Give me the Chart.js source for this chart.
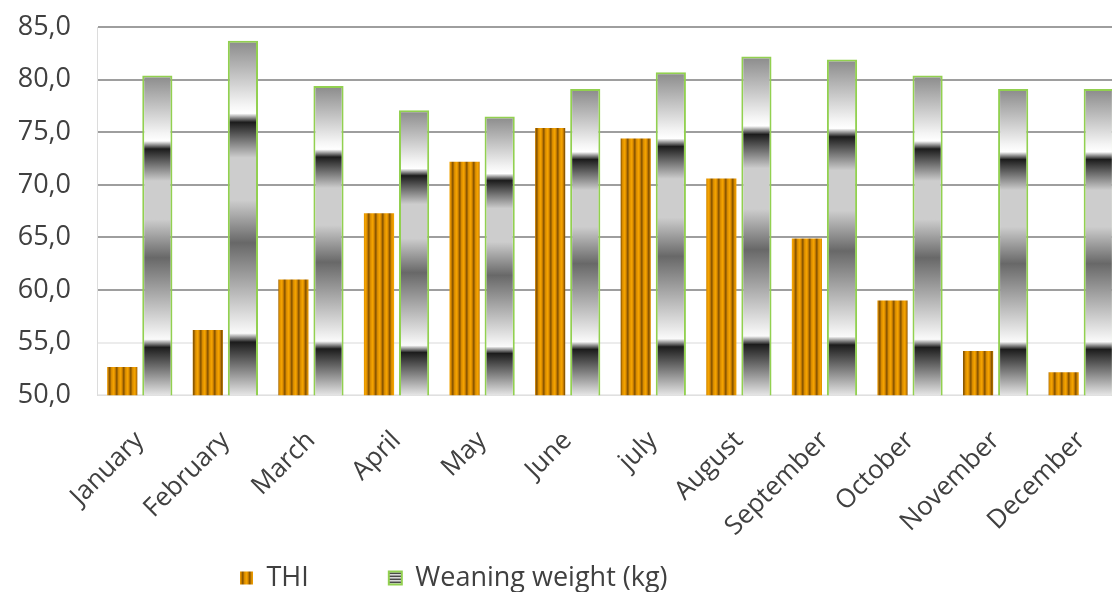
<!DOCTYPE html>
<html>
<head>
<meta charset="utf-8">
<script src="https://cdn.jsdelivr.net/npm/chart.js@4.4.1/dist/chart.umd.min.js"></script>
<style>
  html, body { margin: 0; padding: 0; background: #fff; overflow: hidden; }
</style>
</head>
<body>
<canvas id="chart" width="1124" height="592"></canvas>
<script>
// Data
const months = ["January", "February", "March", "April", "May", "June",
  "july", "August", "September", "October", "November", "December"];
const thi = [52.7, 56.2, 61.0, 67.3, 72.2, 75.4, 74.4, 70.6, 64.9, 59.0, 54.2, 52.2];
const weaningWeight = [80.4, 83.7, 79.4, 77.1, 76.5, 79.1, 80.7, 82.2, 81.9, 80.4, 79.1, 79.1];
const yMin = 50;
const yMax = 85;
const yStep = 5;

const canvas = document.getElementById("chart");
const ctx2d = canvas.getContext("2d");
const textFont = { family: "'Open Sans', sans-serif", size: 26 };
const yFont = { family: "'Open Sans', sans-serif", size: 27 };
const legendFont = { family: "'Open Sans', sans-serif", size: 27 };
const textColor = "#404040";

// orange bars with vertical stripes
function makePattern(w, h, cols, vertical) {
  const c = document.createElement("canvas");
  c.width = w;
  c.height = h;
  const x = c.getContext("2d");
  cols.forEach((col, i) => {
    x.fillStyle = col;
    if (vertical) x.fillRect(i, 0, 1, h);
    else x.fillRect(0, i, w, 1);
  });
  return ctx2d.createPattern(c, "repeat");
}
const orangeStripes = makePattern(7, 1,
  ["#e89800", "#f2a300", "#e49400", "#c07800", "#8c5800", "#a86a00", "#d88c00"], true);
const grayStripes = makePattern(1, 3, ["#4a4a4a", "#d8d8d8", "#9a9a9a"], false);

// chrome look of the weaning weight bars, stretched over each bar
const chromeStops = [
  [0, "#8a8a8a"], [0.18, "#f4f4f4"], [0.205, "#ffffff"], [0.23, "#1c1c1c"],
  [0.33, "#cdcdcd"], [0.45, "#cdcdcd"], [0.57, "#686868"], [0.81, "#f2f2f2"],
  [0.825, "#fafafa"], [0.85, "#1c1c1c"], [1, "#e6e6e6"]
];
function chromeFill(ctx) {
  const chart = ctx.chart;
  const y = chart.scales.y;
  if (!chart.chartArea || !y || ctx.type !== "data") return "#bdbdbd";
  const top = y.getPixelForValue(ctx.raw);
  const bottom = y.getPixelForValue(y.min);
  const g = chart.ctx.createLinearGradient(0, top, 0, bottom);
  chromeStops.forEach(([t, c]) => g.addColorStop(t, c));
  return g;
}

// legend sits left of centre in the original
const legendStartX = 240;
const legendMidY = 578;
const legendGap = 80;
const legendPlace = {
  id: "legendPlace",
  afterLayout(chart) {
    const lg = chart.legend;
    lg.left = legendStartX - legendGap;
    lg.top = legendMidY - legendFont.size / 2 - legendGap;
  }
};

new Chart(canvas, {
  type: "bar",
  data: {
    labels: months,
    datasets: [
      {
        label: "THI",
        data: thi,
        backgroundColor: orangeStripes,
        borderWidth: 0,
        categoryPercentage: 0.82,
        barPercentage: 0.86,
      },
      {
        label: "Weaning weight (kg)",
        data: weaningWeight,
        backgroundColor: chromeFill,
        borderColor: "#92d050",
        borderWidth: 2,
        categoryPercentage: 0.82,
        barPercentage: 0.86,
      },
    ],
  },
  options: {
    responsive: false,
    animation: false,
    layout: { padding: 0 },
    scales: {
      x: {
        grid: { display: false, drawTicks: false },
        border: { color: "#e0e0e0" },
        ticks: {
          autoSkip: false,
          minRotation: 45,
          maxRotation: 45,
          padding: 30,
          color: textColor,
          font: textFont,
        },
        afterFit(s) {
          s.paddingLeft = 0;
          s.paddingRight = 0;
        },
      },
      y: {
        min: yMin,
        max: yMax,
        ticks: {
          stepSize: yStep,
          padding: 26,
          color: textColor,
          font: yFont,
          callback: (v) => v.toFixed(1).replace(".", ","),
        },
        grid: {
          drawTicks: false,
          lineWidth: 2,
          color: (c) => (c.tick && c.tick.value <= 55 ? "#ececec" : "#9e9e9e"),
        },
        border: { color: "#dcdcdc", width: 1 },
        afterFit(s) {
          s.paddingTop = 27;
          s.width = 97;
        },
      },
    },
    plugins: {
      tooltip: { enabled: false },
      legend: {
        position: "bottom",
        align: "start",
        maxHeight: 20,
        labels: {
          boxWidth: 13,
          boxHeight: 13,
          padding: legendGap,
          color: textColor,
          font: legendFont,
          generateLabels(chart) {
            const items = Chart.defaults.plugins.legend.labels.generateLabels(chart);
            items[0].fillStyle = orangeStripes;
            items[0].lineWidth = 0;
            items[1].fillStyle = grayStripes;
            items[1].strokeStyle = "#92d050";
            items[1].lineWidth = 2;
            return items;
          },
        },
      },
    },
  },
  plugins: [legendPlace],
});
</script>
</body>
</html>
